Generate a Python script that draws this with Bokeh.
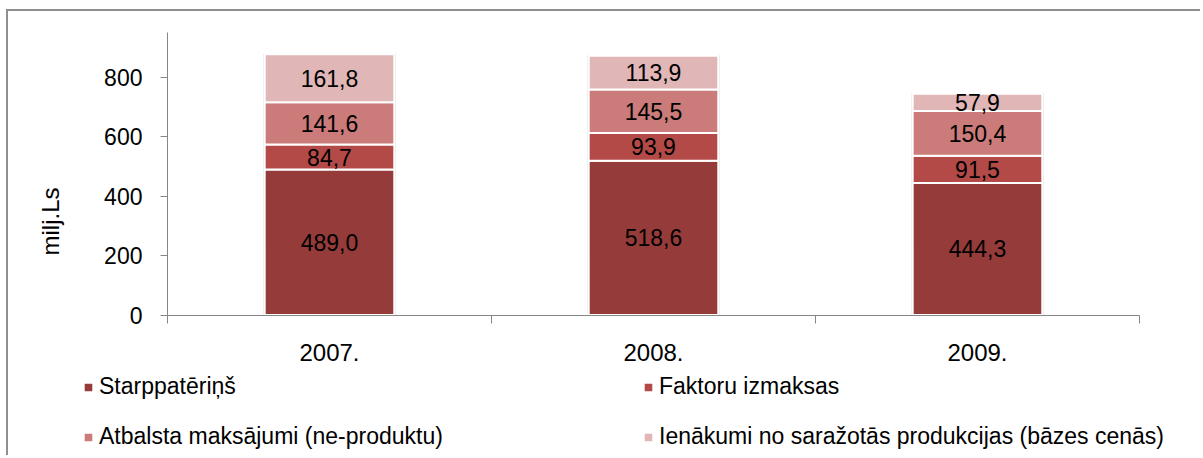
import math
from bokeh.plotting import figure
from bokeh.models import (Range1d, LinearAxis, FixedTicker, Legend, LegendItem,
                          ColumnDataSource, Label)
from bokeh.core.properties import value
from bokeh.embed import file_html
from bokeh.resources import INLINE

# ---- data ----
years = ["2007.", "2008.", "2009."]
starppateri = [489.0, 518.6, 444.3]
faktoru = [84.7, 93.9, 91.5]
atbalsta = [141.6, 145.5, 150.4]
ienakumi = [161.8, 113.9, 57.9]
series_names = ["Starppatēriņš", "Faktoru izmaksas",
                "Atbalsta maksājumi (ne-produktu)",
                "Ienākumi no saražotās produkcijas (bāzes cenās)"]
y_ticks = [0, 200, 400, 600, 800]
y_axis_max = 950
y_title = "milj.Ls"

series = [starppateri, faktoru, atbalsta, ienakumi]
colors = ["#953B3A", "#B34A47", "#CA7B7A", "#E1B6B6"]
FONT = "Liberation Sans"
GRAY = "#868686"

W, H = 1194, 446
centers = [i + 0.5 for i in range(len(years))]

# frame covers the whole canvas; axes are drawn at fixed locations
p = figure(width=W, height=H,
           x_range=Range1d(-0.4907, -0.4907 + W / 324.0),
           y_range=Range1d(-479, -479 + H / 0.2974),
           output_backend="svg", toolbar_location=None,
           x_axis_location=None, y_axis_location=None, min_border=0,
           min_border_left=0, min_border_right=0, min_border_top=0,
           min_border_bottom=0)
p.styles = {"border-left": "2px solid #8f8f8f", "border-top": "2px solid #8f8f8f",
            "margin-left": "6px", "margin-top": "9px"}
p.outline_line_color = None
p.xgrid.visible = False
p.ygrid.visible = False

# soft shadow behind each stack
totals = [sum(v) for v in zip(*series)]
p.vbar(x=centers, width=0.41, bottom=0, top=[t + 1.5 for t in totals],
       fill_color="#cfcfcf", fill_alpha=0.5, line_color=None)

renderers = []
bottoms = [0.0] * len(years)
for vals, col in zip(series, colors):
    tops = [b + v for b, v in zip(bottoms, vals)]
    src = ColumnDataSource(dict(x=centers, bottom=bottoms, top=tops,
                                mid=[(b + t) / 2 for b, t in zip(bottoms, tops)],
                                lab=[f"{v:.1f}".replace(".", ",") for v in vals]))
    r = p.vbar(x="x", width=0.4, bottom="bottom", top="top", source=src,
               fill_color=col, line_color="white", line_width=2)
    p.text(x="x", y="mid", text="lab", source=src, text_align="center",
           text_baseline="middle", text_font=value(FONT),
           text_font_size="23px", text_color="black")
    renderers.append(r)
    bottoms = tops

# x axis: ticks at category boundaries, labels at centres
xaxis = LinearAxis(
    fixed_location=0, bounds=(0, len(years)),
    ticker=FixedTicker(ticks=centers, minor_ticks=list(range(len(years) + 1))),
    major_label_overrides={c: y for c, y in zip(centers, years)},
    major_tick_out=0, major_tick_in=0, minor_tick_out=8, minor_tick_in=0,
    axis_line_color=GRAY, minor_tick_line_color=GRAY, major_tick_line_color=None,
    major_label_standoff=21, major_label_text_font=FONT,
    major_label_text_font_size="24px", major_label_text_color="black")
p.add_layout(xaxis, "below")

yaxis = LinearAxis(
    fixed_location=0, bounds=(0, y_axis_max),
    ticker=FixedTicker(ticks=y_ticks), major_tick_out=7, major_tick_in=0,
    minor_tick_out=0, minor_tick_in=0, axis_line_color=GRAY,
    major_tick_line_color=GRAY, major_label_standoff=18,
    major_label_text_font=FONT, major_label_text_font_size="23px",
    major_label_text_color="black")
p.add_layout(yaxis, "left")

p.add_layout(Label(x=42, y=H - 210, x_units="screen", y_units="screen",
                   text=y_title, angle=math.pi / 2, text_align="center",
                   text_baseline="middle", text_font=FONT,
                   text_font_size="24px", text_color="black"))

def make_legend(items, x, y):
    lg = Legend(items=items, location=(x, y), orientation="vertical",
                glyph_width=12, glyph_height=12, label_standoff=5,
                label_height=26, spacing=23, padding=0, margin=0,
                border_line_color=None, background_fill_alpha=0,
                label_text_font=FONT, label_text_font_size="23px",
                label_text_color="black")
    p.add_layout(lg)

make_legend([LegendItem(label=series_names[0], renderers=[renderers[0]]),
             LegendItem(label=series_names[2], renderers=[renderers[2]])],
            74, 7)
make_legend([LegendItem(label=series_names[1], renderers=[renderers[1]]),
             LegendItem(label=series_names[3], renderers=[renderers[3]])],
            634, 7)

open("out.html", "w").write(file_html(p, INLINE))
